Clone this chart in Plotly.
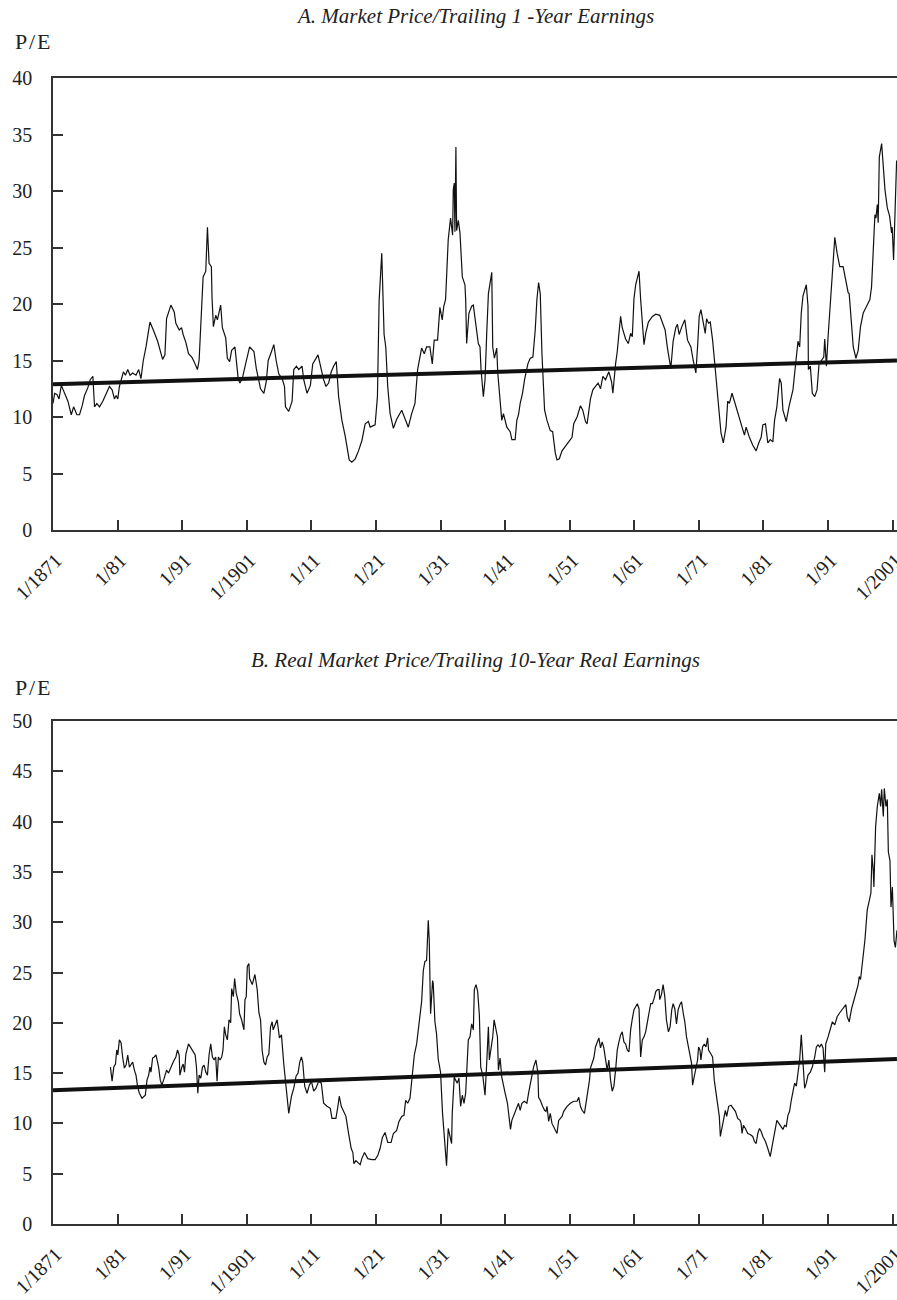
import plotly.graph_objects as go

# ---------------- data ----------------
top_years = [1871.00, 1871.26, 1871.62, 1871.93, 1872.29, 1872.80, 1873.31, 1873.83, 1874.19, 1874.70,
             1875.11, 1875.52, 1875.88, 1876.40, 1876.76, 1877.17, 1877.43, 1877.79, 1878.20, 1878.71,
             1879.23, 1879.74, 1880.15, 1880.51, 1880.77, 1881.03, 1881.28, 1881.90, 1882.21, 1882.57,
             1882.93, 1883.34, 1883.85, 1884.26, 1884.62, 1884.98, 1885.40, 1886.01, 1886.53, 1887.20,
             1887.97, 1888.33, 1888.58, 1889.25, 1889.77, 1890.02, 1890.54, 1890.90, 1891.15, 1891.57,
             1891.98, 1892.49, 1892.85, 1893.36, 1893.62, 1893.88, 1894.14, 1894.24, 1894.65, 1894.91,
             1895.16, 1895.52, 1895.62, 1895.83, 1896.19, 1896.45, 1896.96, 1897.22, 1897.74, 1897.99,
             1898.35, 1898.66, 1899.17, 1899.38, 1899.69, 1899.95, 1900.31, 1900.82, 1901.44, 1902.11,
             1902.47, 1903.13, 1903.65, 1904.01, 1904.32, 1904.83, 1905.19, 1905.55, 1905.96, 1906.48,
             1906.84, 1906.99, 1907.50, 1908.02, 1908.28, 1908.69, 1909.05, 1909.56, 1909.82, 1910.33,
             1910.85, 1911.21, 1912.03, 1912.54, 1912.90, 1913.26, 1913.67, 1914.08, 1914.44, 1914.86,
             1915.22, 1915.73, 1916.24, 1916.86, 1917.27, 1917.79, 1918.30, 1918.82, 1919.33, 1919.84,
             1920.10, 1920.87, 1921.23, 1921.49, 1921.90, 1922.26, 1922.52, 1922.82, 1923.19, 1923.70,
             1924.21, 1924.99, 1925.40, 1926.01, 1926.53, 1927.04, 1927.45, 1928.07, 1928.48, 1928.84,
             1929.35, 1929.72, 1930.02, 1930.54, 1930.90, 1931.26, 1931.50, 1931.78, 1932.19, 1932.55,
             1932.87, 1932.97, 1933.12, 1933.23, 1933.38, 1933.49, 1933.75, 1934.01, 1934.26, 1934.37,
             1934.78, 1934.89, 1935.04, 1935.40, 1935.82, 1936.08, 1936.44, 1936.85, 1937.11, 1937.27,
             1937.63, 1937.89, 1938.15, 1938.41, 1938.93, 1939.08, 1939.34, 1939.70, 1939.86, 1940.22,
             1940.48, 1940.74, 1941.26, 1941.78, 1942.04, 1942.55, 1942.81, 1943.07, 1943.33, 1943.69,
             1944.01, 1944.52, 1944.89, 1945.30, 1945.66, 1945.92, 1946.18, 1946.44, 1946.70, 1947.11,
             1947.48, 1947.99, 1948.36, 1948.51, 1948.77, 1949.03, 1949.39, 1949.81, 1950.33, 1950.84,
             1951.36, 1951.62, 1952.14, 1952.66, 1953.02, 1953.44, 1953.69, 1954.21, 1954.58, 1954.99,
             1955.40, 1955.77, 1956.13, 1956.54, 1957.06, 1957.48, 1957.68, 1958.10, 1958.36, 1958.62,
             1958.88, 1959.13, 1959.39, 1959.65, 1960.07, 1960.43, 1960.69, 1960.95, 1961.21, 1961.73,
             1961.98, 1962.24, 1962.50, 1962.76, 1963.18, 1963.80, 1964.32, 1964.94, 1965.35, 1965.77,
             1966.13, 1966.65, 1967.01, 1967.42, 1967.68, 1967.94, 1968.36, 1968.82, 1969.24, 1969.76,
             1970.12, 1970.53, 1970.79, 1971.05, 1971.31, 1971.67, 1971.98, 1972.19, 1972.50, 1972.76,
             1973.12, 1973.54, 1973.90, 1974.16, 1974.42, 1974.78, 1975.20, 1975.46, 1975.72, 1976.13,
             1976.49, 1977.01, 1977.53, 1978.05, 1978.31, 1978.82, 1979.34, 1979.86, 1980.27, 1980.64,
             1980.90, 1981.31, 1981.67, 1982.04, 1982.45, 1982.71, 1983.07, 1983.49, 1983.75, 1984.01,
             1984.52, 1984.94, 1985.56, 1985.97, 1986.34, 1986.60, 1986.85, 1987.11, 1987.63, 1987.89,
             1987.95, 1988.25, 1988.56, 1988.93, 1989.29, 1989.60, 1989.96, 1990.33, 1990.48, 1990.74,
             1991.00, 1991.26, 1991.67, 1992.04, 1992.40, 1992.81, 1993.33, 1993.59, 1994.11, 1994.27,
             1994.64, 1994.90, 1995.31, 1995.66, 1996.02, 1996.44, 1996.96, 1997.47, 1997.73, 1997.99,
             1998.25, 1998.41, 1998.62, 1998.76, 1998.93, 1999.29, 1999.44, 1999.81, 2000.17, 2000.52,
             2000.83, 2000.93, 2001.14, 2001.45, 2001.61]
top_pe = [11.2, 12.1, 12.0, 11.6, 12.8, 12.1, 11.4, 10.2, 10.9, 10.2,
          10.2, 11.0, 11.9, 12.6, 13.3, 13.6, 10.9, 11.2, 10.9, 11.4,
          12.0, 12.7, 12.4, 11.6, 11.9, 11.6, 12.7, 14.0, 13.7, 14.2,
          13.7, 13.9, 13.7, 14.2, 13.4, 15.0, 16.2, 18.4, 17.7, 16.7,
          15.1, 15.5, 18.7, 19.9, 19.3, 18.3, 17.7, 17.9, 17.3, 16.6,
          15.6, 15.3, 14.9, 14.2, 15.0, 17.7, 20.8, 22.4, 22.9, 26.8,
          23.6, 23.3, 20.6, 18.0, 19.0, 18.6, 19.9, 17.9, 17.0, 15.2,
          14.9, 15.9, 16.2, 14.9, 13.3, 13.0, 13.4, 14.7, 16.2, 15.8,
          14.3, 12.5, 12.1, 13.1, 15.0, 15.8, 16.4, 15.0, 13.8, 13.4,
          12.7, 10.9, 10.5, 11.4, 14.2, 14.5, 14.2, 14.5, 13.3, 12.1,
          12.8, 14.7, 15.5, 14.2, 13.3, 12.7, 13.0, 14.0, 14.5, 14.9,
          11.8, 9.7, 8.3, 6.2, 6.0, 6.3, 7.0, 7.9, 9.4, 9.6,
          9.1, 9.3, 11.8, 20.3, 24.5, 17.3, 16.2, 12.7, 10.3, 9.0,
          9.8, 10.6, 10.0, 9.1, 10.3, 11.2, 14.2, 16.1, 15.6, 16.2,
          16.2, 14.7, 16.8, 16.8, 19.7, 18.6, 19.8, 20.4, 25.7, 27.6,
          26.1, 30.1, 30.7, 26.4, 33.9, 26.5, 27.4, 26.3, 23.6, 22.4,
          21.7, 20.4, 16.5, 19.2, 19.8, 19.9, 18.3, 16.5, 16.2, 14.2,
          11.8, 13.3, 17.4, 20.9, 22.8, 16.2, 15.2, 16.1, 13.9, 11.2,
          9.7, 10.3, 9.1, 8.7, 8.0, 8.0, 9.7, 10.2, 11.2, 12.1,
          13.3, 14.7, 15.2, 15.3, 17.7, 20.4, 21.9, 20.9, 15.6, 10.6,
          9.7, 8.8, 8.7, 8.0, 6.8, 6.2, 6.3, 7.0, 7.4, 7.7,
          8.2, 9.4, 10.0, 11.0, 10.6, 9.6, 9.4, 11.6, 12.4, 12.7,
          13.0, 12.5, 13.6, 13.3, 14.0, 13.1, 12.1, 14.7, 15.8, 17.4,
          18.9, 17.9, 17.4, 16.9, 16.5, 17.4, 17.1, 20.5, 21.7, 22.9,
          20.4, 18.3, 16.4, 17.4, 18.4, 18.9, 19.1, 19.0, 18.3, 17.7,
          16.1, 14.3, 16.7, 17.9, 18.2, 17.3, 18.0, 18.6, 16.8, 16.2,
          15.0, 13.9, 16.2, 18.9, 19.5, 18.3, 17.4, 18.7, 18.3, 18.4,
          16.8, 14.2, 11.8, 10.0, 8.6, 7.7, 9.1, 11.4, 11.2, 12.1,
          11.4, 10.3, 9.4, 8.4, 9.1, 8.2, 7.5, 7.0, 7.7, 8.2,
          9.3, 9.4, 7.7, 8.0, 7.8, 9.7, 10.9, 13.4, 13.0, 10.6,
          9.6, 10.9, 12.4, 14.7, 16.7, 16.2, 19.2, 20.7, 21.7, 19.8,
          14.2, 14.5, 12.1, 11.8, 12.4, 14.7, 15.0, 15.3, 16.9, 14.5,
          17.1, 19.5, 22.8, 25.9, 24.5, 23.3, 23.3, 22.4, 21.0, 20.9,
          17.7, 16.2, 15.2, 15.9, 18.0, 19.2, 19.8, 20.4, 21.5, 25.0,
          27.9, 27.6, 28.8, 27.2, 33.0, 34.2, 33.0, 30.1, 28.5, 27.8,
          26.3, 26.8, 23.9, 29.2, 32.7]

bottom_years = [1879.89, 1880.15, 1880.41, 1880.67, 1880.87, 1881.03, 1881.28, 1881.54, 1881.80, 1882.05,
                1882.31, 1882.57, 1882.83, 1883.08, 1883.34, 1883.60, 1883.85, 1884.11, 1884.37, 1884.78,
                1885.29, 1885.55, 1885.81, 1886.01, 1886.17, 1886.42, 1886.68, 1886.94, 1887.09, 1887.35,
                1887.61, 1887.86, 1888.22, 1888.58, 1888.89, 1889.25, 1889.61, 1890.02, 1890.28, 1890.54,
                1890.64, 1890.95, 1891.15, 1891.36, 1891.57, 1891.98, 1892.34, 1892.59, 1893.01, 1893.21,
                1893.42, 1893.62, 1893.88, 1894.14, 1894.39, 1894.65, 1894.91, 1895.16, 1895.42, 1895.68,
                1895.94, 1896.19, 1896.40, 1896.60, 1896.86, 1897.12, 1897.32, 1897.53, 1897.74, 1897.99,
                1898.25, 1898.51, 1898.66, 1898.92, 1899.12, 1899.38, 1899.69, 1899.89, 1900.20, 1900.56,
                1900.72, 1900.92, 1901.08, 1901.33, 1901.44, 1901.85, 1902.26, 1902.62, 1902.88, 1903.13,
                1903.39, 1903.65, 1903.90, 1904.16, 1904.42, 1904.68, 1904.93, 1905.09, 1905.34, 1905.70,
                1906.06, 1906.37, 1906.73, 1907.09, 1907.50, 1907.92, 1908.28, 1908.63, 1908.94, 1909.20,
                1909.46, 1909.66, 1909.97, 1910.33, 1910.69, 1911.00, 1911.36, 1911.72, 1912.13, 1912.54,
                1912.90, 1913.42, 1913.93, 1914.19, 1914.80, 1915.11, 1915.32, 1915.63, 1915.99, 1916.35,
                1916.76, 1917.17, 1917.43, 1917.58, 1917.89, 1918.30, 1918.56, 1918.81, 1919.23, 1919.74,
                1920.36, 1920.87, 1921.28, 1921.64, 1922.00, 1922.41, 1922.83, 1923.34, 1923.70, 1924.21,
                1924.57, 1924.98, 1925.34, 1925.60, 1925.91, 1926.27, 1926.53, 1926.94, 1927.30, 1927.56,
                1927.81, 1928.07, 1928.33, 1928.58, 1928.84, 1929.10, 1929.25, 1929.46, 1929.77, 1929.87,
                1930.13, 1930.38, 1930.64, 1931.00, 1931.31, 1931.67, 1931.93, 1932.19, 1932.45, 1932.71,
                1932.81, 1933.12, 1933.33, 1933.59, 1933.85, 1934.11, 1934.37, 1934.63, 1934.89, 1935.04,
                1935.30, 1935.56, 1935.82, 1936.08, 1936.23, 1936.49, 1936.75, 1937.01, 1937.22, 1937.53,
                1937.89, 1938.15, 1938.41, 1938.56, 1938.82, 1939.08, 1939.29, 1939.55, 1939.81, 1939.96,
                1940.22, 1940.48, 1940.74, 1941.00, 1941.36, 1941.62, 1941.83, 1942.04, 1942.45, 1942.81,
                1943.07, 1943.33, 1943.59, 1943.95, 1944.37, 1944.63, 1945.04, 1945.40, 1945.77, 1946.08,
                1946.18, 1946.44, 1946.80, 1947.11, 1947.32, 1947.48, 1947.74, 1947.99, 1948.25, 1948.51,
                1948.77, 1949.03, 1949.29, 1949.81, 1950.07, 1950.59, 1951.10, 1951.62, 1952.14, 1952.40,
                1952.66, 1952.92, 1953.28, 1953.59, 1953.85, 1954.06, 1954.21, 1954.47, 1954.73, 1954.99,
                1955.25, 1955.51, 1955.77, 1956.03, 1956.28, 1956.54, 1956.80, 1957.06, 1957.32, 1957.58,
                1957.84, 1958.10, 1958.36, 1958.62, 1958.88, 1959.13, 1959.39, 1959.65, 1959.91, 1960.17,
                1960.43, 1960.69, 1960.95, 1961.21, 1961.47, 1961.73, 1961.98, 1962.24, 1962.50, 1962.76,
                1963.02, 1963.28, 1963.54, 1963.80, 1964.06, 1964.32, 1964.58, 1964.84, 1964.94, 1965.20,
                1965.46, 1965.72, 1965.97, 1966.28, 1966.54, 1966.80, 1967.01, 1967.27, 1967.53, 1967.79,
                1968.05, 1968.31, 1968.56, 1968.82, 1969.08, 1969.34, 1969.60, 1969.86, 1970.02, 1970.27,
                1970.53, 1970.79, 1970.95, 1971.16, 1971.31, 1971.57, 1971.83, 1972.09, 1972.35, 1972.50,
                1972.86, 1973.12, 1973.38, 1973.64, 1973.90, 1974.16, 1974.32, 1974.58, 1974.84, 1975.09,
                1975.30, 1975.61, 1975.97, 1976.34, 1976.65, 1977.01, 1977.37, 1977.53, 1977.68, 1977.89,
                1978.20, 1978.56, 1978.93, 1979.34, 1979.60, 1979.86, 1980.12, 1980.38, 1980.64, 1980.90,
                1981.31, 1981.67, 1982.04, 1982.35, 1982.71, 1983.07, 1983.38, 1983.75, 1984.01, 1984.26,
                1984.52, 1984.78, 1985.04, 1985.30, 1985.56, 1985.82, 1986.08, 1986.34, 1986.60, 1986.85,
                1987.11, 1987.37, 1987.63, 1987.89, 1988.25, 1988.56, 1988.93, 1989.19, 1989.44, 1989.70,
                1989.96, 1990.22, 1990.48, 1990.64, 1991.00, 1991.26, 1991.67, 1992.04, 1992.40, 1992.81,
                1993.33, 1993.75, 1993.96, 1994.27, 1994.64, 1995.00, 1995.41, 1995.66, 1995.82, 1996.02,
                1996.18, 1996.70, 1997.06, 1997.37, 1997.63, 1997.79, 1997.99, 1998.09, 1998.25, 1998.36,
                1998.62, 1998.93, 1999.13, 1999.29, 1999.55, 1999.70, 1999.96, 2000.17, 2000.33, 2000.58,
                2000.74, 2000.95, 2001.21, 2001.42, 2001.66]
bottom_pe = [15.6, 14.2, 15.6, 15.9, 17.3, 16.8, 18.3, 18.0, 16.5, 15.5,
             15.8, 16.8, 15.6, 15.8, 16.1, 15.3, 14.8, 13.6, 13.0, 12.5,
             12.8, 14.3, 14.8, 15.6, 15.1, 16.5, 16.6, 16.8, 16.3, 15.6,
             14.3, 13.8, 14.5, 15.3, 15.0, 15.6, 16.1, 16.6, 17.3, 16.8,
             14.8, 15.6, 15.9, 15.1, 16.9, 17.9, 17.5, 17.3, 16.8, 15.6,
             13.0, 14.8, 14.5, 15.6, 15.8, 15.1, 14.8, 16.8, 17.9, 16.6,
             16.3, 16.6, 14.2, 16.6, 16.3, 16.6, 17.3, 19.6, 18.8, 18.3,
             20.3, 20.0, 23.4, 22.6, 24.4, 22.9, 22.1, 20.9, 20.3, 19.3,
             22.3, 22.6, 25.6, 25.9, 24.4, 23.8, 24.8, 23.3, 21.0, 20.3,
             17.2, 16.1, 15.8, 16.6, 16.9, 19.6, 20.1, 19.3, 19.8, 20.3,
             18.5, 18.8, 15.9, 13.7, 11.0, 12.7, 13.5, 14.7, 15.0, 16.1,
             16.6, 16.1, 13.7, 13.0, 13.8, 14.2, 13.2, 13.5, 14.2, 14.0,
             12.0, 11.7, 11.5, 10.5, 10.5, 11.7, 12.7, 11.7, 11.2, 10.7,
             9.0, 7.5, 7.1, 6.0, 6.3, 6.0, 5.9, 6.5, 7.1, 6.5,
             6.4, 6.4, 6.8, 7.5, 8.6, 9.1, 8.1, 8.1, 9.0, 9.3,
             10.2, 10.7, 10.8, 12.3, 12.0, 12.5, 14.3, 16.8, 17.9, 19.3,
             20.1, 22.1, 25.2, 26.1, 26.2, 30.2, 28.2, 20.9, 24.2, 23.9,
             20.1, 18.9, 16.4, 15.1, 11.0, 7.7, 5.8, 9.5, 8.7, 8.0,
             11.0, 14.6, 14.3, 14.0, 14.5, 11.7, 12.8, 12.0, 13.0, 15.0,
             18.3, 18.6, 19.9, 19.3, 23.3, 23.8, 23.1, 20.8, 15.6, 14.8,
             12.8, 16.0, 19.6, 16.3, 17.3, 18.6, 20.3, 19.3, 18.6, 15.3,
             16.5, 14.6, 13.6, 13.0, 12.0, 10.7, 9.4, 10.3, 11.0, 11.7,
             12.0, 11.3, 12.0, 12.2, 12.0, 13.0, 14.3, 15.6, 16.3, 15.0,
             12.6, 12.3, 11.7, 11.3, 11.2, 11.7, 10.2, 11.0, 10.0, 9.7,
             9.4, 9.0, 10.3, 10.7, 11.2, 11.7, 12.0, 12.2, 12.2, 12.6,
             11.7, 11.3, 11.0, 12.3, 13.0, 14.3, 15.5, 16.0, 16.5, 17.6,
             18.1, 18.5, 17.5, 18.1, 17.5, 16.1, 15.3, 16.3, 14.3, 13.2,
             13.7, 15.3, 17.3, 18.1, 18.8, 19.1, 18.1, 17.9, 17.3, 17.1,
             19.3, 20.4, 21.3, 21.6, 21.9, 21.4, 16.6, 18.3, 18.6, 19.1,
             20.3, 21.0, 21.9, 21.9, 22.4, 23.1, 23.3, 23.3, 22.3, 22.8,
             23.8, 22.6, 20.3, 19.1, 19.6, 21.3, 21.9, 21.4, 19.9, 21.3,
             21.8, 22.1, 21.0, 20.1, 18.6, 17.6, 16.9, 16.0, 13.8, 14.6,
             15.3, 16.3, 17.6, 17.3, 16.3, 17.6, 17.9, 17.6, 18.5, 17.3,
             16.9, 16.6, 14.3, 13.0, 11.7, 10.7, 8.7, 9.7, 10.5, 11.3,
             10.7, 11.7, 11.8, 11.5, 11.2, 10.5, 10.3, 10.0, 9.0, 9.8,
             9.5, 9.0, 8.9, 8.7, 8.2, 8.0, 9.0, 9.5, 9.2, 8.7,
             8.2, 7.5, 6.7, 7.8, 9.0, 10.3, 10.0, 9.7, 9.4, 9.8,
             9.7, 10.8, 11.2, 12.3, 13.3, 14.0, 13.7, 15.0, 16.3, 18.8,
             16.0, 13.5, 14.0, 14.8, 15.1, 15.6, 16.6, 17.6, 17.8, 17.6,
             17.9, 17.5, 15.1, 17.9, 18.6, 19.1, 20.1, 19.8, 20.6, 21.0,
             21.4, 21.8, 20.6, 20.1, 21.4, 22.3, 23.3, 23.8, 24.6, 24.3,
             25.2, 28.2, 31.2, 32.2, 32.9, 36.7, 35.2, 33.5, 36.8, 39.5,
             41.5, 42.8, 41.5, 43.2, 40.5, 43.3, 41.5, 42.2, 37.0, 36.1,
             31.5, 33.5, 28.2, 27.5, 29.2]

# fitted trend lines (end points)
trend_years = [1871.0, 2001.66]
trend_top = [12.9, 15.0]
trend_bottom = [13.3, 16.4]

tick_years = [1871, 1881, 1891, 1901, 1911, 1921, 1931, 1941, 1951, 1961, 1971, 1981, 1991, 2001]
tick_labels = ["1/1871", "1/81", "1/91", "1/1901", "1/11", "1/21", "1/31", "1/41",
               "1/51", "1/61", "1/71", "1/81", "1/91", "1/2001"]

title_a = "A. Market Price/Trailing 1 -Year Earnings"
title_b = "B. Real Market Price/Trailing 10-Year Real Earnings"
y_label = "P\u200a/\u200aE"

# ---------------- figure ----------------
W, H = 897, 1300
L, R = 53, 0
FONT = "Liberation Serif"
TXT = "#222222"
AX = "#333333"

fig = go.Figure()
fig.add_trace(go.Scatter(x=top_years, y=top_pe, mode="lines",
                         line=dict(color="#111111", width=1.2), xaxis="x", yaxis="y",
                         showlegend=False, hoverinfo="skip"))
fig.add_trace(go.Scatter(x=trend_years, y=trend_top, mode="lines",
                         line=dict(color="#111111", width=4), xaxis="x", yaxis="y",
                         showlegend=False, hoverinfo="skip"))
fig.add_trace(go.Scatter(x=bottom_years, y=bottom_pe, mode="lines",
                         line=dict(color="#111111", width=1.2), xaxis="x2", yaxis="y2",
                         showlegend=False, hoverinfo="skip"))
fig.add_trace(go.Scatter(x=trend_years, y=trend_bottom, mode="lines",
                         line=dict(color="#111111", width=4), xaxis="x2", yaxis="y2",
                         showlegend=False, hoverinfo="skip"))

def py(p):
    return 1 - p / H

xcommon = dict(range=[1871, 2001.67], tickvals=tick_years, ticktext=tick_labels,
               tickangle=-45, ticks="inside", ticklen=10, tickwidth=1.5, tickcolor=AX,
               showline=True, linecolor=AX, linewidth=1.5, mirror=True,
               showgrid=False, zeroline=False, ticklabelstandoff=9, ticklabelshift=3,
               ticklabeloverflow="allow", automargin=False,
               tickfont=dict(family=FONT, size=20, color=TXT))
ycommon = dict(ticks="inside", ticklen=10, tickwidth=1.5, tickcolor=AX,
               showline=True, linecolor=AX, linewidth=1.5, showgrid=False,
               zeroline=False, ticklabelstandoff=15, automargin=False,
               ticklabeloverflow="allow",
               tickfont=dict(family=FONT, size=20, color=TXT))

fig.update_layout(
    template="none",
    width=W, height=H,
    margin=dict(l=L, r=R, t=0, b=0, autoexpand=False),
    paper_bgcolor="white", plot_bgcolor="white",
    xaxis=dict(domain=[0, 1], anchor="y", **xcommon),
    yaxis=dict(domain=[py(530), py(78)], anchor="x", range=[0, 40],
               tickvals=[0, 5, 10, 15, 20, 25, 30, 35, 40], **ycommon),
    xaxis2=dict(domain=[0, 1], anchor="y2", **xcommon),
    yaxis2=dict(domain=[py(1224), py(721)], anchor="x2", range=[0, 50],
                tickvals=[0, 5, 10, 15, 20, 25, 30, 35, 40, 45, 50], **ycommon),
)

pw = W - L - R
def px(p):
    return (p - L) / pw

ann = [
    dict(text=title_a, x=0.5, y=py(16), italic=True, size=21),
    dict(text=y_label, x=px(13), y=py(42), italic=False, xanchor="left", size=22),
    dict(text=title_b, x=0.5, y=py(660), italic=True, size=21),
    dict(text=y_label, x=px(13), y=py(687), italic=False, xanchor="left", size=22),
]
for a in ann:
    fig.add_annotation(text=(f"<i>{a['text']}</i>" if a["italic"] else a["text"]),
                       x=a["x"], y=a["y"], xref="paper", yref="paper",
                       xanchor=a.get("xanchor", "center"), yanchor="middle",
                       showarrow=False,
                       font=dict(family=FONT, size=a["size"], color=TXT))

fig.write_html("out.html",
               config={"displayModeBar": False},
               post_script="document.body.style.margin='0';document.body.style.overflow='hidden';")
